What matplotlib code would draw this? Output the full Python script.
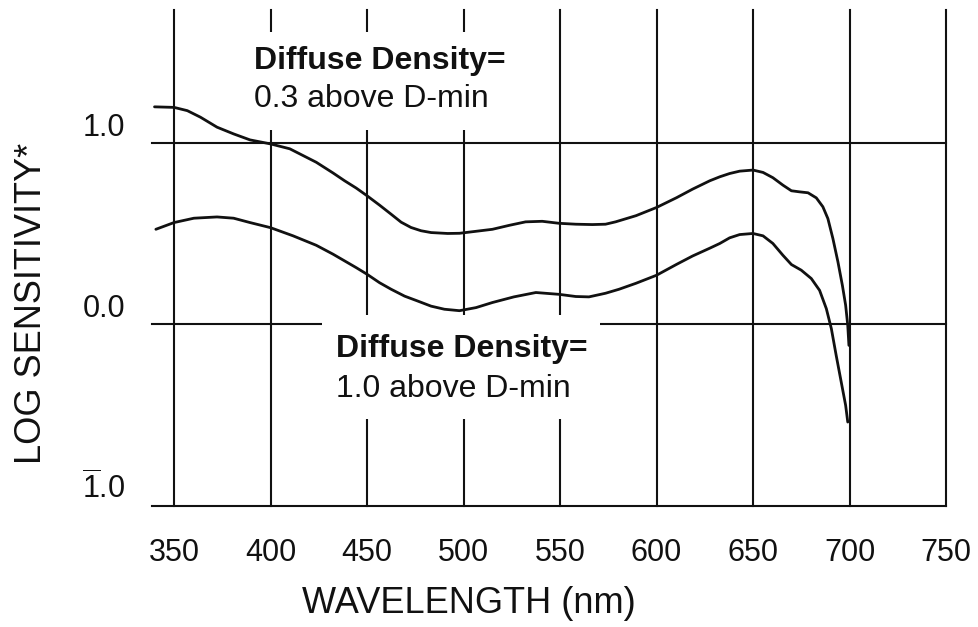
import matplotlib
matplotlib.use('Agg')
import matplotlib.pyplot as plt
from matplotlib.patches import Rectangle

# ---- data ----
x_ticks = [350, 400, 450, 500, 550, 600, 650, 700, 750]
y_ticks = [-1.0, 0.0, 1.0]
y_tick_labels = [r'$\overline{1}$.0', '0.0', '1.0']

wl_upper = [339.9, 350, 356.9, 363.7, 372.3, 380.9, 389.4, 400, 410, 423.7, 432.4,
            438.4, 444.4, 450.1, 456.5, 462.5, 467.7, 472.8, 478, 483.2, 491.8,
            497.9, 506.5, 515, 523.8, 532.2, 540.8, 549.5, 558.2, 566.8, 573.6,
            578.8, 589.4, 600, 610.4, 618.7, 627.6, 632.8, 637.9, 643.1, 650,
            655.2, 660.3, 665.5, 669.9, 674.2, 678.5, 682.8, 686.2, 688.8, 691.4,
            694, 696.3, 698, 699.1, 699.7]
sens_upper = [1.197, 1.194, 1.176, 1.14, 1.085, 1.048, 1.015, 0.993, 0.966, 0.892,
              0.833, 0.79, 0.75, 0.707, 0.656, 0.606, 0.562, 0.533, 0.515, 0.505,
              0.50, 0.501, 0.512, 0.523, 0.545, 0.564, 0.567, 0.556, 0.551, 0.549,
              0.551, 0.564, 0.598, 0.643, 0.697, 0.744, 0.79, 0.812, 0.830, 0.843,
              0.849, 0.836, 0.807, 0.766, 0.735, 0.729, 0.724, 0.696, 0.647, 0.582,
              0.472, 0.344, 0.215, 0.105, -0.006, -0.116]

wl_lower = [340.6, 350, 360.3, 372.3, 380.9, 389.4, 400, 411.7, 423.7, 432.4, 438.4,
            444.4, 450.1, 456.5, 462.5, 469.5, 476.3, 483.2, 490.1, 497.9, 506.5,
            515, 526.1, 537.5, 549.5, 558.2, 565, 573.6, 580.6, 589.4, 600, 610.4,
            618.7, 627.6, 632.8, 637.9, 643.1, 650, 655.2, 660.3, 665.5, 669.9,
            675, 680.2, 684.5, 688, 690.6, 693.1, 695.7, 698, 699.1]
sens_lower = [0.523, 0.56, 0.584, 0.591, 0.584, 0.56, 0.532, 0.487, 0.435, 0.386,
              0.349, 0.312, 0.275, 0.229, 0.193, 0.155, 0.128, 0.10, 0.083, 0.075,
              0.092, 0.12, 0.151, 0.175, 0.165, 0.153, 0.151, 0.171, 0.193, 0.226,
              0.27, 0.33, 0.376, 0.419, 0.445, 0.476, 0.494, 0.5, 0.487, 0.445,
              0.38, 0.329, 0.298, 0.252, 0.187, 0.086, -0.024, -0.171, -0.317,
              -0.446, -0.538]

label_upper = ('Diffuse Density=', '0.3 above D-min')
label_lower = ('Diffuse Density=', '1.0 above D-min')

# ---- style ----
plt.rcParams['font.family'] = ['Liberation Sans', 'DejaVu Sans']
plt.rcParams['mathtext.fontset'] = 'custom'
plt.rcParams['mathtext.rm'] = 'Liberation Sans'
plt.rcParams['mathtext.it'] = 'Liberation Sans:italic'
plt.rcParams['mathtext.bf'] = 'Liberation Sans:bold'

ink = '#111111'
fig = plt.figure(figsize=(9.79, 6.27), dpi=100)
ax = fig.add_axes([152/979, 1 - 506/627, (946 - 152)/979, (506 - 10)/627])
ax.set_xlim(338.6, 750)
ax.set_ylim(-1.0, 1.73)
for s in ax.spines.values():
    s.set_visible(False)

ax.set_xticks(x_ticks)
ax.set_xticklabels([str(v) for v in x_ticks])
ax.set_yticks(y_ticks)
ax.set_yticklabels(y_tick_labels)
ax.tick_params(axis='both', length=0, labelsize=22, colors=ink)
ax.tick_params(axis='x', pad=23)
ax.tick_params(axis='y', pad=19)
for lab in ax.get_yticklabels():
    lab.set_va('bottom')

ax.set_axisbelow(True)
ax.grid(True, color=ink, linewidth=1.5)
for ln in ax.get_xgridlines() + ax.get_ygridlines():
    ln.set_clip_on(False)

# white masks behind the annotations
ax.add_patch(Rectangle((384.2, 1.069), 531.8 - 384.2, 1.609 - 1.069,
                       facecolor='white', edgecolor='none', zorder=1))
ax.add_patch(Rectangle((426.6, -0.523), 570.6 - 426.6, 0.050 + 0.523,
                       facecolor='white', edgecolor='none', zorder=1))

ax.plot(wl_upper, sens_upper, color=ink, linewidth=2.0, zorder=3,
        solid_joinstyle='round', solid_capstyle='round')
ax.plot(wl_lower, sens_lower, color=ink, linewidth=2.0, zorder=3,
        solid_joinstyle='round', solid_capstyle='round')

ax.text(391.4, 1.405, label_upper[0], fontsize=23, fontweight='bold',
        va='baseline', ha='left', color=ink, zorder=4)
ax.text(391.4, 1.196, label_upper[1], fontsize=23,
        va='baseline', ha='left', color=ink, zorder=4)
ax.text(433.9, -0.182, label_lower[0], fontsize=23, fontweight='bold',
        va='baseline', ha='left', color=ink, zorder=4)
ax.text(433.9, -0.402, label_lower[1], fontsize=23,
        va='baseline', ha='left', color=ink, zorder=4)

ax.set_xlabel('WAVELENGTH (nm)', fontsize=26, color=ink)
ax.xaxis.set_label_coords(0.399, -0.1956)
ax.xaxis.label.set_va('center')
ax.set_ylabel('LOG SENSITIVITY*', fontsize=26, color=ink)
ax.yaxis.label.set_va('center')
ax.yaxis.set_label_coords(-0.152, 0.409)

fig.savefig('out.png', dpi=100, facecolor='white')
